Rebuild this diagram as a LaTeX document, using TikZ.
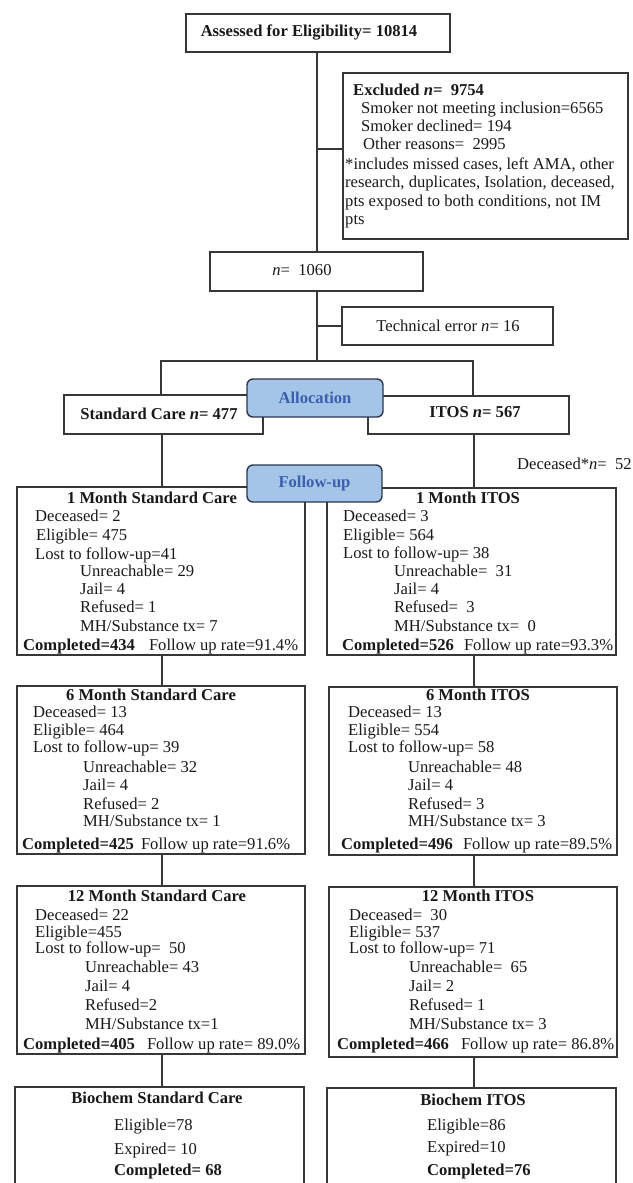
\documentclass[tikz,border=0pt]{standalone}
\usepackage{fontspec}
\setmainfont{Liberation Serif}
\definecolor{lnc}{RGB}{55,55,55}
\definecolor{txc}{RGB}{25,25,25}
\definecolor{afill}{RGB}{164,197,232}
\definecolor{aline}{RGB}{45,55,75}
\definecolor{atext}{RGB}{60,95,175}
\newcommand\myfs{\fontsize{16.6}{18.5}\selectfont}
\newcommand\mkbox[5]{\node[bx,minimum width={(#4-#2)*1pt},minimum height={(#5-#3)*1pt}] (#1) at ({(#2+#4)/2},{(#3+#5)/2}) {};}
\begin{document}
\begin{tikzpicture}[x=1pt,y=-1pt,
  bx/.style={draw=lnc,line width=1.4pt,inner sep=0pt,outer sep=0pt,rectangle},
  conn/.style={draw=lnc,line width=1.4pt},
  tl/.style={inner sep=0pt,anchor=mid west,font=\myfs,text=txc},
  tm/.style={inner sep=0pt,anchor=mid,font=\myfs,text=txc},
  rb/.style={draw=aline,fill=afill,rounded corners=6pt,line width=1.4pt,inner sep=0pt,font=\myfs\bfseries,text=atext}]
\useasboundingbox (0,0) rectangle (632,1183);
\clip (0,0) rectangle (632,1183);
\fill[white] (0,0) rectangle (632,1183);
% boxes
\mkbox{assess}{186}{14}{450}{52}
\mkbox{excl}{343}{73}{628}{239}
\mkbox{n1060}{210}{252}{423}{291}
\mkbox{tech}{342}{307}{553}{345}
\mkbox{sc}{64}{395}{263}{434}
\mkbox{itos}{368}{396}{569}{434}
\mkbox{ms1}{17}{487}{305}{655}
\mkbox{mi1}{327}{488}{616}{655}
\mkbox{ms6}{17}{686}{305}{854}
\mkbox{mi6}{329}{687}{617}{855}
\mkbox{ms12}{17}{886}{305}{1054}
\mkbox{mi12}{329}{887}{617}{1057}
\mkbox{bs}{15}{1087}{304}{1200}
\mkbox{bi}{327}{1088}{616}{1200}
% connectors
\coordinate (mx) at (317,0);
\coordinate (lcx) at (162,0);
\coordinate (rcx) at (474,0);
\coordinate (exj) at (317,149);
\coordinate (br) at (317,361);
\coordinate (bl) at (161,361);
\coordinate (bR) at (473,361);
\draw[conn] (assess.south -| mx) -- (n1060.north -| mx);
\draw[conn] (exj) -- (exj -| excl.west);
\draw[conn] (n1060.south -| mx) -- (br);
\draw[conn] (mx |- tech.west) -- (tech.west);
\draw[conn] (bl |- sc.north) -- (bl) -- (bR) -- (bR |- itos.north);
\draw[conn] (sc.south -| lcx) -- (ms1.north -| lcx);
\draw[conn] (ms1.south -| lcx) -- (ms6.north -| lcx);
\draw[conn] (ms6.south -| lcx) -- (ms12.north -| lcx);
\draw[conn] (ms12.south -| lcx) -- (bs.north -| lcx);
\draw[conn] (itos.south -| rcx) -- (mi1.north -| rcx);
\draw[conn] (mi1.south -| rcx) -- (mi6.north -| rcx);
\draw[conn] (mi6.south -| rcx) -- (mi12.north -| rcx);
\draw[conn] (mi12.south -| rcx) -- (bi.north -| rcx);
% rounded labels
\node[rb,minimum width=136pt,minimum height=38pt] (alloc) at (315,398) {Allocation};
\node[rb,minimum width=135pt,minimum height=37pt] (fu) at (314.5,483.5) {Follow-up};
% texts top
\node[tm,font=\myfs\bfseries] (t-assess) at (309,34) {Assessed for Eligibility= 10814};
\node[tl,font=\myfs\bfseries] (t-ex1) at (353,93) {Excluded \textit{n}= \ 9754};
\node[tl] (t-ex2) at (361,111) {Smoker not meeting inclusion=6565};
\node[tl] (t-ex3) at (361,129) {Smoker declined= 194};
\node[tl] (t-ex4) at (363,147) {Other reasons= \ 2995};
\node[tl] (t-ex5) at (345,167) {*includes missed cases, left AMA, other};
\node[tl] (t-ex6) at (345,185) {research, duplicates, Isolation, deceased,};
\node[tl] (t-ex7) at (345,204) {pts exposed to both conditions, not IM};
\node[tl] (t-ex8) at (345,222) {pts};
\node[tm] (t-n) at (302,273) {\textit{n}= \ 1060};
\node[tm] (t-tech) at (448,329) {Technical error \textit{n}= 16};
\node[tm,font=\myfs\bfseries] (t-sc) at (159,417) {Standard Care \textit{n}= 477};
\node[tm,font=\myfs\bfseries] (t-it) at (475,415) {ITOS \textit{n}= 567};
\node[tl] (t-dec) at (517,467) {Deceased*\textit{n}= \ 52};
% 1 month SC
\node[tm,font=\myfs\bfseries] (a0) at (152,501) {1 Month Standard Care};
\node[tl] (a1) at (35,519) {Deceased= 2};
\node[tl] (a2) at (36,538) {Eligible= 475};
\node[tl] (a3) at (35,557) {Lost to follow-up=41};
\node[tl] (a4) at (80,574) {Unreachable= 29};
\node[tl] (a5) at (80,592) {Jail= 4};
\node[tl] (a6) at (80,610) {Refused= 1};
\node[tl] (a7) at (80,629) {MH/Substance tx= 7};
\node[tl] (a8) at (23,648) {\textbf{Completed=434}\hspace{14pt}Follow up rate=91.4\%};
% 1 month ITOS
\node[tm,font=\myfs\bfseries] (b0) at (468,501) {1 Month ITOS};
\node[tl] (b1) at (343,519) {Deceased= 3};
\node[tl] (b2) at (343,538) {Eligible= 564};
\node[tl] (b3) at (343,556) {Lost to follow-up= 38};
\node[tl] (b4) at (394,574) {Unreachable= \ 31};
\node[tl] (b5) at (394,592) {Jail= 4};
\node[tl] (b6) at (394,610) {Refused= \ 3};
\node[tl] (b7) at (394,629) {MH/Substance tx= \ 0};
\node[tl] (b8) at (342,648) {\textbf{Completed=526}\hspace{10pt}Follow up rate=93.3\%};
% 6 month SC
\node[tm,font=\myfs\bfseries] (c0) at (151,698) {6 Month Standard Care};
\node[tl] (c1) at (33,715) {Deceased= 13};
\node[tl] (c2) at (33,733) {Eligible= 464};
\node[tl] (c3) at (33,750) {Lost to follow-up= 39};
\node[tl] (c4) at (83,770) {Unreachable= 32};
\node[tl] (c5) at (83,788) {Jail= 4};
\node[tl] (c6) at (83,807) {Refused= 2};
\node[tl] (c7) at (83,824) {MH/Substance tx= 1};
\node[tl] (c8) at (22,847) {\textbf{Completed=425}\hspace{7pt}Follow up rate=91.6\%};
% 6 month ITOS
\node[tm,font=\myfs\bfseries] (d0) at (478,698) {6 Month ITOS};
\node[tl] (d1) at (348,715) {Deceased= 13};
\node[tl] (d2) at (348,733) {Eligible= 554};
\node[tl] (d3) at (348,750) {Lost to follow-up= 58};
\node[tl] (d4) at (408,770) {Unreachable= 48};
\node[tl] (d5) at (408,788) {Jail= 4};
\node[tl] (d6) at (408,807) {Refused= 3};
\node[tl] (d7) at (408,824) {MH/Substance tx= 3};
\node[tl] (d8) at (341,847) {\textbf{Completed=496}\hspace{10pt}Follow up rate=89.5\%};
% 12 month SC
\node[tm,font=\myfs\bfseries] (e0) at (157,899) {12 Month Standard Care};
\node[tl] (e1) at (35,918) {Deceased= 22};
\node[tl] (e2) at (35,935) {Eligible=455};
\node[tl] (e3) at (35,951) {Lost to follow-up= \ 50};
\node[tl] (e4) at (85,970) {Unreachable= 43};
\node[tl] (e5) at (85,989) {Jail= 4};
\node[tl] (e6) at (85,1008) {Refused=2};
\node[tl] (e7) at (85,1027) {MH/Substance tx=1};
\node[tl] (e8) at (23,1047) {\textbf{Completed=405}\hspace{12pt}Follow up rate= 89.0\%};
% 12 month ITOS
\node[tm,font=\myfs\bfseries] (f0) at (478,899) {12 Month ITOS};
\node[tl] (f1) at (349,918) {Deceased= \ 30};
\node[tl] (f2) at (349,935) {Eligible= 537};
\node[tl] (f3) at (349,951) {Lost to follow-up= 71};
\node[tl] (f4) at (409,970) {Unreachable= \ 65};
\node[tl] (f5) at (409,989) {Jail= 2};
\node[tl] (f6) at (409,1008) {Refused= 1};
\node[tl] (f7) at (409,1027) {MH/Substance tx= 3};
\node[tl] (f8) at (337,1047) {\textbf{Completed=466}\hspace{12pt}Follow up rate= 86.8\%};
% biochem
\node[tm,font=\myfs\bfseries] (g0) at (157,1101) {Biochem Standard Care};
\node[tl] (g1) at (114,1128) {Eligible=78};
\node[tl] (g2) at (114,1152) {Expired= 10};
\node[tl,font=\myfs\bfseries] (g3) at (114,1173) {Completed= 68};
\node[tm,font=\myfs\bfseries] (h0) at (473,1103) {Biochem ITOS};
\node[tl] (h1) at (427,1128) {Eligible=86};
\node[tl] (h2) at (427,1150) {Expired=10};
\node[tl,font=\myfs\bfseries] (h3) at (427,1173) {Completed=76};
\end{tikzpicture}
\end{document}
